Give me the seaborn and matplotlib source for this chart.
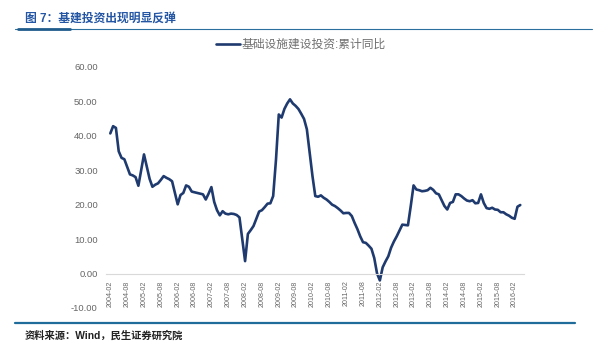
import numpy as np
import pandas as pd
import matplotlib
matplotlib.use("Agg")
import matplotlib.pyplot as plt
from matplotlib.lines import Line2D
import seaborn as sns

# 基础设施建设投资:累计同比 (%), monthly from 2004-02
y2004 = [40.7, 42.8, 42.3, 35.5, 33.6, 33.2, 31.0, 28.8, 28.5, 28.0, 25.5]
y2005 = [30.0, 34.6, 31.0, 27.5, 25.2, 25.8, 26.2, 27.2, 28.3, 27.8, 27.4, 26.8]
y2006 = [23.5, 20.1, 22.8, 23.4, 25.6, 25.2, 23.8, 23.6, 23.4, 23.2, 23.0, 21.5]
y2007 = [23.2, 25.1, 20.8, 18.4, 16.9, 18.1, 17.4, 17.2, 17.4, 17.3, 17.0, 16.3]
y2008 = [10.0, 3.6, 11.5, 12.6, 13.8, 15.9, 18.0, 18.4, 19.3, 20.3, 20.4, 22.5]
y2009 = [33.0, 46.2, 45.3, 47.8, 49.4, 50.6, 49.4, 48.7, 47.8, 46.4, 44.9, 41.9]
y2010 = [35.0, 28.3, 22.5, 22.3, 22.7, 22.0, 21.5, 20.8, 20.0, 19.6, 19.0, 18.3]
y2011 = [17.5, 17.6, 17.6, 16.7, 14.7, 12.9, 10.8, 9.1, 8.9, 8.1, 7.2, 4.5]
y2012 = [0.0, -2.0, 1.8, 3.5, 5.0, 7.5, 9.3, 10.8, 12.5, 14.2, 14.1, 14.0]
y2013 = [19.6, 25.6, 24.4, 24.2, 23.9, 24.0, 24.2, 24.9, 24.3, 23.3, 23.0, 21.3]
y2014 = [19.6, 18.6, 20.5, 20.8, 23.0, 23.0, 22.5, 21.8, 21.2, 21.0, 21.3, 20.4]
y2015 = [20.5, 23.0, 20.5, 19.0, 18.8, 19.1, 18.6, 18.5, 17.8, 17.8, 17.2, 16.8]
y2016 = [16.2, 15.9, 19.4, 19.9]

tick_labels = ['2004-02', '2004-08', '2005-02', '2005-08', '2006-02', '2006-08',
               '2007-02', '2007-08', '2008-02', '2008-08', '2009-02', '2009-08',
               '2010-02', '2010-08', '2011-02', '2011-08', '2012-02', '2012-08',
               '2013-02', '2013-08', '2014-02', '2014-08', '2015-02', '2015-08',
               '2016-02']
y_ticks = [-10, 0, 10, 20, 30, 40, 50, 60]

series_name = '基础设施建设投资:累计同比'

values = (y2004 + y2005 + y2006 + y2007 + y2008 + y2009 + y2010 +
          y2011 + y2012 + y2013 + y2014 + y2015 + y2016)
months = pd.date_range('2004-02-01', periods=len(values), freq='MS').strftime('%Y-%m')
df = pd.DataFrame({'month': months, 'value': values})
df['pos'] = np.arange(len(df))

sns.set_theme(style="white")
plt.rcParams['font.family'] = ['Liberation Sans', 'Noto Sans CJK SC']

fig = plt.figure(figsize=(5.96, 3.64), dpi=100)
ax = fig.add_axes([0.178, 0.154, 0.702, 0.662])

sns.lineplot(data=df, x='pos', y='value', ax=ax, color='#1f3a6e', linewidth=1.9,
             label=series_name)

ax.set_xlim(-1.5, len(df) + 0.5)
ax.set_ylim(-10, 60)
ax.set_xlabel('')
ax.set_ylabel('')

tick_pos = [list(df['month']).index(t) for t in tick_labels]
ax.set_xticks(tick_pos, labels=tick_labels)
ax.set_yticks(y_ticks, labels=[f'{v:.2f}' for v in y_ticks])

for s in ['top', 'right', 'left']:
    ax.spines[s].set_visible(False)
ax.spines['bottom'].set_position(('data', 0))
ax.spines['bottom'].set_color('#d9d9d9')
ax.spines['bottom'].set_linewidth(0.8)
ax.tick_params(axis='x', direction='out', length=3, width=0.6, color='#d9d9d9',
               pad=2, labelsize=5.1, labelrotation=90, labelcolor='#666666')
ax.tick_params(axis='y', length=0, pad=6, labelsize=6.8, labelcolor='#666666')

ax.legend(loc='center', bbox_to_anchor=(301 / 596, 1 - 45 / 364),
          bbox_transform=fig.transFigure, frameon=False, fontsize=8.5,
          handlelength=2.0, handletextpad=0.2, labelcolor='#707070')

# header and footer
fig.text(25 / 596, 1 - 19 / 364, '图 7：基建投资出现明显反弹', fontsize=8.5,
         fontweight='bold', color='#2456a4', va='center', ha='left')
fig.add_artist(Line2D([15 / 596, 592 / 596], [1 - 29 / 364] * 2,
                      transform=fig.transFigure, color='#2a6f9e', linewidth=0.8))
fig.add_artist(Line2D([18 / 596, 70 / 596], [1 - 29 / 364] * 2,
                      transform=fig.transFigure, color='#1f5c8c', linewidth=2.0))
fig.add_artist(Line2D([15 / 596, 575 / 596], [1 - 323 / 364] * 2,
                      transform=fig.transFigure, color='#1f6b9a', linewidth=1.6))
fig.text(25 / 596, 1 - 336 / 364, '资料来源：Wind，民生证券研究院', fontsize=7.4,
         fontweight='bold', color='#222222', va='center', ha='left')

fig.savefig('out.png', dpi=100, facecolor='white')
